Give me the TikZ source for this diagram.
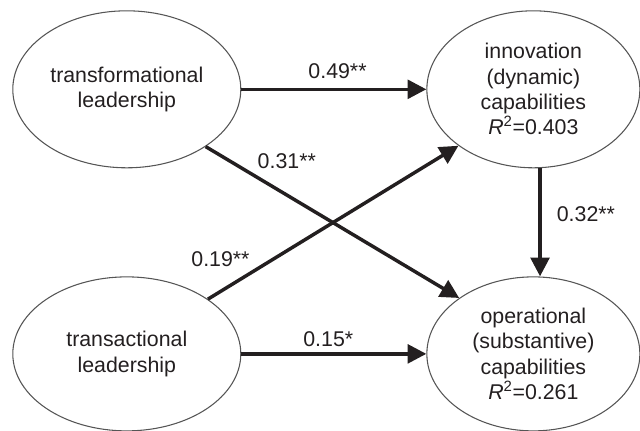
\documentclass[tikz,border=0pt]{standalone}
\usepackage{fontspec}
\setmainfont{Liberation Sans}
\usetikzlibrary{shapes.geometric,arrows.meta}
\definecolor{ink}{HTML}{231F20}
\definecolor{rim}{HTML}{555555}

\begin{document}
\begin{tikzpicture}[
    font=\fontsize{16}{19}\selectfont, text=ink,
    construct/.style={draw=rim, line width=0.8pt, ellipse, inner sep=0pt, align=center},
    effect/.style={-{Triangle[length=14pt,width=14pt]}, line width=2.6pt, draw=ink}]
  \useasboundingbox (0,0) rectangle (480pt,-322.5pt);
  \matrix[anchor=north west, inner sep=0pt, column sep=138.75pt, row sep=81pt] at (9pt,-7.5pt) {
    \node[construct, minimum width=171pt, minimum height=117.75pt] (TFL) {transformational\\leadership}; &
    \node[construct, minimum width=159.75pt, minimum height=117.75pt] (IDC) {innovation\\(dynamic)\\capabilities\\\textit{R}\textsuperscript{2}=0.403}; \\
    \node[construct, minimum width=171pt, minimum height=115.5pt] (TSL) {transactional\\leadership}; &
    \node[construct, minimum width=159.75pt, minimum height=115.5pt] (OSC) {operational\\(substantive)\\capabilities\\\textit{R}\textsuperscript{2}=0.261}; \\
  };
  \draw[effect] (TFL.east) -- node[above=3pt, pos=0.52] {0.49**} (IDC.west);
  \draw[effect] (TSL.east) -- node[above=1pt, pos=0.47] {0.15*} (OSC.west);
  \draw[effect] ([xshift=5pt]IDC.south) -- node[right=8pt, pos=0.42] {0.32**} ([xshift=5pt]OSC.north);
  \draw[effect] (TFL.-36.5) -- node[above=15pt, pos=0.32] {0.31**} (OSC.143.6);
  \draw[effect] (TSL.34.4) -- node[above=14pt, pos=0.05] {0.19**} (IDC.217.2);
\end{tikzpicture}
\end{document}
